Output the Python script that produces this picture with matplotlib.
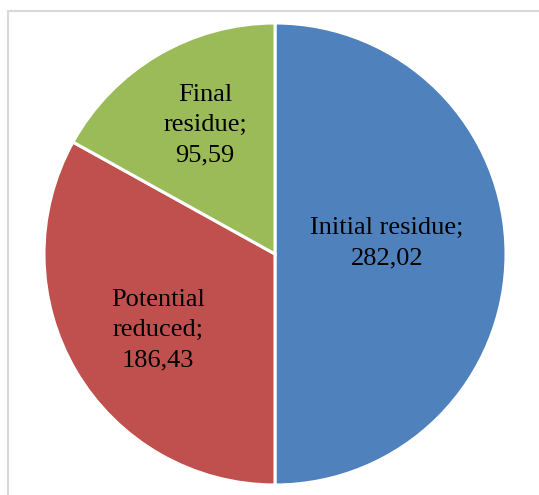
import numpy as np
import matplotlib.pyplot as plt
from matplotlib.patches import Rectangle

labels = ['Initial residue;', 'Potential\nreduced;', 'Final\nresidue;']
values = [282.02, 186.43, 95.59]
colors = ['#4F81BD', '#C0504D', '#9BBB59']
# label radius and angular nudge (deg) per slice
label_dist = [0.487, 0.604, 0.635]
label_nudge = [5.7, 2.5, -2.0]

plt.rcParams['font.family'] = ['Liberation Serif', 'DejaVu Serif']

fig = plt.figure(figsize=(5.39, 4.95), dpi=100)
ax = fig.add_axes([44 / 539, 10 / 495, 462 / 539, 462 / 495])

wedges, _ = ax.pie(values, colors=colors, startangle=90, counterclock=False,
                   radius=1.0, wedgeprops=dict(edgecolor='white', linewidth=2.2))
ax.set_aspect('equal')
ax.set_xlim(-1, 1)
ax.set_ylim(-1, 1)

for w, lab, v, d, n in zip(wedges, labels, values, label_dist, label_nudge):
    ang = np.deg2rad((w.theta1 + w.theta2) / 2 + n)
    txt = lab + '\n' + ('%.2f' % v).replace('.', ',')
    ax.text(d * np.cos(ang), d * np.sin(ang), txt, ha='center', va='center',
            multialignment='center', fontsize=19, linespacing=1.5, color='black')

# chart frame
fig.patches.append(Rectangle((8 / 539, -0.1), 1.2, 1 - 10.5 / 495 + 0.1,
                             transform=fig.transFigure, fill=False,
                             edgecolor='#D9D9D9', linewidth=1.5))

fig.savefig('out.png', dpi=100)
